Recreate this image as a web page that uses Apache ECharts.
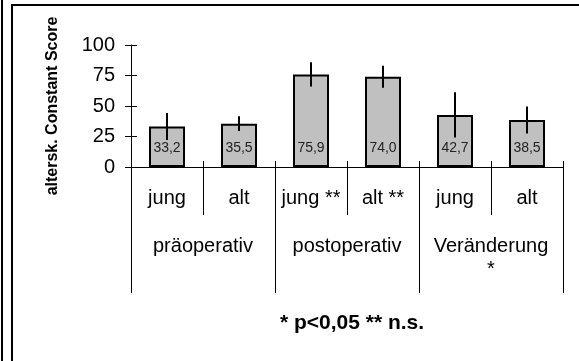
<!DOCTYPE html>
<html>
<head>
    <meta charset="utf-8">
    <title>altersk. Constant Score</title>
    <script src="https://cdn.jsdelivr.net/npm/echarts@6/dist/echarts.min.js"></script>
    <style>
        html, body { margin: 0; padding: 0; background: #fff; }
        #main { width: 579px; height: 361px; }
    </style>
</head>
<body>
<div id="main"></div>
<script>
    // Werte
    var groups = ['präoperativ', 'postoperativ', 'Veränderung\n*'];
    var subgroups = ['jung', 'alt', 'jung **', 'alt **', 'jung', 'alt'];
    var means = [33.2, 35.5, 75.9, 74.0, 42.7, 38.5];
    var errors = [11, 6, 10, 9, 18.5, 11];
    var yMin = 0, yMax = 100, yStep = 25;

    var font = 'Liberation Sans, Arial, sans-serif';

    var errData = means.map(function (m, i) {
        return [i, m - errors[i], m + errors[i]];
    });

    var myChart = echarts.init(document.getElementById('main'));
    var option = {
        animation: false,
        textStyle: { fontFamily: font, color: '#000' },
        title: {
            text: '* p<0,05 ** n.s.',
            left: 347,
            top: 308,
            textAlign: 'center',
            textStyle: { fontFamily: font, fontSize: 21, fontWeight: 'bold', color: '#000' }
        },
        grid: { left: 131, right: 16, top: 45, bottom: 194, outerBoundsMode: 'none' },
        xAxis: [
            {
                type: 'category',
                data: subgroups,
                position: 'bottom',
                axisLine: { show: true, lineStyle: { color: '#000', width: 1 } },
                axisTick: { show: true, interval: 0, length: 48, lineStyle: { color: '#000' } },
                axisLabel: { margin: 21, fontSize: 20, color: '#000', fontFamily: font, interval: 0 }
            },
            {
                type: 'category',
                data: groups,
                position: 'bottom',
                offset: 0,
                axisLine: { show: false },
                axisTick: { show: true, interval: 0, length: 126, lineStyle: { color: '#000' } },
                axisLabel: { margin: 68, fontSize: 20, lineHeight: 23, color: '#000', fontFamily: font, interval: 0 }
            },
            {
                // kurze Striche oberhalb der Achse
                type: 'category',
                data: subgroups,
                position: 'bottom',
                offset: 0,
                axisLine: { show: false },
                axisTick: { show: true, interval: 0, inside: true, length: 6, lineStyle: { color: '#000' } },
                axisLabel: { show: false }
            }
        ],
        yAxis: [
            {
                type: 'value',
                min: yMin,
                max: yMax,
                interval: yStep,
                position: 'left',
                name: 'altersk. Constant Score',
                nameLocation: 'middle',
                nameGap: 70,
                nameRotate: 90,
                nameTextStyle: { fontFamily: font, fontSize: 16, fontWeight: 'bold', color: '#000' },
                splitLine: { show: false },
                axisLine: { show: true, lineStyle: { color: '#000' } },
                axisTick: { show: true, length: 6, lineStyle: { color: '#000' } },
                axisLabel: { margin: 16, fontSize: 20, color: '#000', fontFamily: font }
            },
            {
                type: 'value',
                min: yMin,
                max: yMax,
                interval: yStep,
                position: 'left',
                offset: 0,
                splitLine: { show: false },
                axisLine: { show: false },
                axisTick: { show: true, inside: true, length: 6, lineStyle: { color: '#000' } },
                axisLabel: { show: false }
            }
        ],
        series: [
            {
                type: 'bar',
                data: means,
                barWidth: '50%',
                itemStyle: { color: '#c0c0c0', borderColor: '#000', borderWidth: 2 },
                label: {
                    show: true,
                    position: 'insideBottom',
                    distance: 12,
                    fontSize: 14,
                    color: '#222',
                    fontFamily: font,
                    formatter: function (p) {
                        return p.value.toFixed(1).replace('.', ',');
                    }
                }
            },
            {
                type: 'custom',
                data: errData,
                z: 5,
                renderItem: function (params, api) {
                    var lo = api.coord([api.value(0), api.value(1)]);
                    var hi = api.coord([api.value(0), api.value(2)]);
                    return {
                        type: 'line',
                        shape: { x1: lo[0], y1: lo[1], x2: hi[0], y2: hi[1] },
                        style: { stroke: '#000', lineWidth: 2 }
                    };
                }
            }
        ],
        graphic: [
            { type: 'line', shape: { x1: 2, y1: 0, x2: 2, y2: 361 }, style: { stroke: '#000', lineWidth: 2 } },
            { type: 'line', shape: { x1: 12, y1: 5, x2: 12, y2: 361 }, style: { stroke: '#000', lineWidth: 2 } },
            { type: 'line', shape: { x1: 11, y1: 5, x2: 579, y2: 5 }, style: { stroke: '#000', lineWidth: 2 } }
        ]
    };
    myChart.setOption(option);
</script>
</body>
</html>
